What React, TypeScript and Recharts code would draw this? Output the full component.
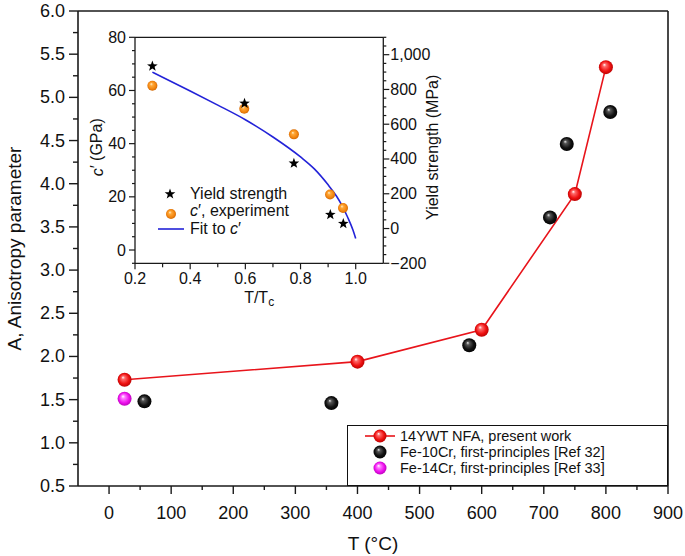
import React from 'react';
import { ComposedChart, Line, Scatter, XAxis, YAxis, ReferenceLine, Legend } from 'recharts';

// ---------- main chart data ----------
const redT = [25, 400, 600, 750, 800];
const redA = [1.73, 1.94, 2.31, 3.88, 5.35];
const blackT = [57, 358, 580, 710, 737, 807];
const blackA = [1.48, 1.46, 2.13, 3.61, 4.46, 4.83];
const magentaT = [25];
const magentaA = [1.51];

const mainXTicks = [0, 50, 100, 150, 200, 250, 300, 350, 400, 450, 500, 550, 600, 650, 700, 750, 800, 850, 900];
const mainYTicks = [0.5, 0.75, 1.0, 1.25, 1.5, 1.75, 2.0, 2.25, 2.5, 2.75, 3.0, 3.25, 3.5, 3.75, 4.0, 4.25, 4.5, 4.75, 5.0, 5.25, 5.5, 5.75, 6.0];

const legendLabels = ['14YWT NFA, present work', 'Fe-10Cr, first-principles [Ref 32]', 'Fe-14Cr, first-principles [Ref 33]'];

// ---------- inset data ----------
const ratioExp = [0.263, 0.596, 0.776, 0.907, 0.954];
const cExp = [61.8, 53.1, 43.5, 20.9, 15.8];
const ratioYS = [0.263, 0.597, 0.776, 0.908, 0.955];
const yieldMPa = [934, 720, 375, 80, 28];
const fitT = [0.263, 0.3, 0.4, 0.5, 0.6, 0.7, 0.8, 0.85, 0.9, 0.93, 0.95, 0.97, 0.99, 1.0];
const fitC = [66.9, 65.0, 59.8, 54.5, 49.0, 42.5, 35.0, 30.5, 24.5, 20.3, 16.8, 12.5, 7.5, 4.3];

const insetXTicks = [0.2, 0.3, 0.4, 0.5, 0.6, 0.7, 0.8, 0.9, 1.0];
const insetLeftTicks = [-5, 0, 5, 10, 15, 20, 25, 30, 35, 40, 45, 50, 55, 60, 65, 70, 75, 80];
const insetRightTicks = [-200, -150, -100, -50, 0, 50, 100, 150, 200, 250, 300, 350, 400, 450, 500, 550, 600, 650, 700, 750, 800, 850, 900, 950, 1000, 1050, 1100];

const redData = redT.map((x, i) => ({ x, y: redA[i] }));
const blackData = blackT.map((x, i) => ({ x, y: blackA[i] }));
const magentaData = magentaT.map((x, i) => ({ x, y: magentaA[i] }));
const expData = ratioExp.map((t, i) => ({ t, c: cExp[i] }));
const ysData = ratioYS.map((t, i) => ({ t, ys: yieldMPa[i] }));
const fitData = fitT.map((t, i) => ({ t, c: fitC[i] }));

const FONT = 'Liberation Sans, Arial, Helvetica, sans-serif';
const AX = '#1a1a1a';

const isMult = (v: number, step: number) => Math.abs(v / step - Math.round(v / step)) < 1e-6;

const Gradients = () => (
  <defs>
    <radialGradient id="ballRed" cx="50%" cy="50%" r="55%" fx="38%" fy="32%">
      <stop offset="0%" stopColor="#ffffff" />
      <stop offset="22%" stopColor="#ff6a6a" />
      <stop offset="65%" stopColor="#ee1111" />
      <stop offset="100%" stopColor="#b00000" />
    </radialGradient>
    <radialGradient id="ballBlack" cx="50%" cy="50%" r="55%" fx="38%" fy="32%">
      <stop offset="0%" stopColor="#e8e8e8" />
      <stop offset="22%" stopColor="#555555" />
      <stop offset="65%" stopColor="#111111" />
      <stop offset="100%" stopColor="#000000" />
    </radialGradient>
    <radialGradient id="ballMagenta" cx="50%" cy="50%" r="55%" fx="38%" fy="32%">
      <stop offset="0%" stopColor="#ffffff" />
      <stop offset="25%" stopColor="#ff77ff" />
      <stop offset="65%" stopColor="#ee11ee" />
      <stop offset="100%" stopColor="#b000b0" />
    </radialGradient>
    <radialGradient id="ballOrange" cx="50%" cy="50%" r="55%" fx="38%" fy="32%">
      <stop offset="0%" stopColor="#fff0d0" />
      <stop offset="28%" stopColor="#ffa838" />
      <stop offset="70%" stopColor="#f28510" />
      <stop offset="100%" stopColor="#c86000" />
    </radialGradient>
  </defs>
);

const Ball = ({ cx, cy, fill, r }: any) => {
  if (cx == null || cy == null) return null;
  return <circle cx={cx} cy={cy} r={r} fill={fill} />;
};

const starPoints = (cx: number, cy: number, R: number, r: number) => {
  const pts: string[] = [];
  for (let k = 0; k < 10; k++) {
    const ang = -Math.PI / 2 + (k * Math.PI) / 5;
    const rad = k % 2 === 0 ? R : r;
    pts.push(`${cx + rad * Math.cos(ang)},${cy + rad * Math.sin(ang)}`);
  }
  return pts.join(' ');
};

const Star = ({ cx, cy }: any) => {
  if (cx == null || cy == null) return null;
  return <polygon points={starPoints(cx, cy, 5.6, 2.3)} fill="#000" />;
};

// ---------- custom ticks ----------
const MainXTick = ({ x, y, payload }: any) => {
  const v = payload.value;
  const major = isMult(v, 100);
  return (
    <g>
      <line x1={x} x2={x} y1={y} y2={y + (major ? 8 : 4)} stroke={AX} strokeWidth={1.4} />
      {major && (
        <text x={x} y={y + 27} textAnchor="middle" dominantBaseline="central" fontSize={18} fontFamily={FONT} fill="#111">
          {v}
        </text>
      )}
    </g>
  );
};

const MainYTick = ({ x, y, payload }: any) => {
  const v = payload.value;
  const major = isMult(v, 0.5);
  return (
    <g>
      <line x1={x} x2={x - (major ? 9 : 5)} y1={y} y2={y} stroke={AX} strokeWidth={1.4} />
      {major && (
        <text x={x - 13} y={y} textAnchor="end" dominantBaseline="central" fontSize={18} fontFamily={FONT} fill="#111">
          {v.toFixed(1)}
        </text>
      )}
    </g>
  );
};

const InsetXTick = ({ x, y, payload }: any) => {
  const v = payload.value;
  const major = isMult(v, 0.2);
  return (
    <g>
      <line x1={x} x2={x} y1={y} y2={y + (major ? 6 : 4)} stroke={AX} strokeWidth={1.2} />
      {major && (
        <text x={x} y={y + 15} textAnchor="middle" dominantBaseline="central" fontSize={16} fontFamily={FONT} fill="#111">
          {v.toFixed(1)}
        </text>
      )}
    </g>
  );
};

const InsetLeftTick = ({ x, y, payload }: any) => {
  const v = payload.value;
  const major = isMult(v, 20);
  return (
    <g>
      <line x1={x} x2={x - (major ? 6 : 3)} y1={y} y2={y} stroke={AX} strokeWidth={1.2} />
      {major && (
        <text x={x - 9} y={y} textAnchor="end" dominantBaseline="central" fontSize={16} fontFamily={FONT} fill="#111">
          {v}
        </text>
      )}
    </g>
  );
};

const InsetRightTick = ({ x, y, payload }: any) => {
  const v = payload.value;
  const major = isMult(v, 200);
  const label = v < 0 ? '\u2212' + Math.abs(v).toLocaleString('en-US') : v.toLocaleString('en-US');
  return (
    <g>
      <line x1={x} x2={x + (major ? 6 : 3)} y1={y} y2={y} stroke={AX} strokeWidth={1.2} />
      {major && (
        <text x={x + 7} y={y} textAnchor="start" dominantBaseline="central" fontSize={16} fontFamily={FONT} fill="#111">
          {label}
        </text>
      )}
    </g>
  );
};

// ---------- legends ----------
const MainLegend = () => {
  const markers = ['url(#ballRed)', 'url(#ballBlack)', 'url(#ballMagenta)'];
  return (
    <div
      style={{
        width: 321,
        height: 61,
        boxSizing: 'border-box',
        border: '1.3px solid #111',
        background: '#fff',
        paddingTop: 2,
        fontFamily: FONT,
        fontSize: 14.5,
        color: '#111',
      }}
    >
      {legendLabels.map((lab, i) => (
        <div key={lab} style={{ display: 'flex', alignItems: 'center', height: 16 }}>
          <svg width={52} height={16} style={{ flex: 'none' }}>
            {i === 0 && <line x1={17} x2={47} y1={8} y2={8} stroke="#e8141b" strokeWidth={1.6} />}
            <circle cx={32} cy={8} r={6.5} fill={markers[i]} />
          </svg>
          <span style={{ whiteSpace: 'nowrap' }}>{lab}</span>
        </div>
      ))}
    </div>
  );
};

const InsetLegend = () => (
  <div style={{ fontFamily: FONT, fontSize: 16, color: '#111', width: 200 }}>
    <div style={{ display: 'flex', alignItems: 'center', height: 17.5 }}>
      <svg width={40} height={17} style={{ flex: 'none' }}>
        <polygon points={starPoints(20, 9, 5.6, 2.3)} fill="#000" />
      </svg>
      <span style={{ whiteSpace: 'nowrap' }}>Yield strength</span>
    </div>
    <div style={{ display: 'flex', alignItems: 'center', height: 17.5 }}>
      <svg width={40} height={17} style={{ flex: 'none' }}>
        <circle cx={21} cy={11} r={5} fill="url(#ballOrange)" />
      </svg>
      <span style={{ whiteSpace: 'nowrap' }}>
        <i>c</i>′, experiment
      </span>
    </div>
    <div style={{ display: 'flex', alignItems: 'center', height: 17.5 }}>
      <svg width={40} height={17} style={{ flex: 'none' }}>
        <line x1={8} x2={34} y1={9} y2={9} stroke="#2323d8" strokeWidth={1.6} />
      </svg>
      <span style={{ whiteSpace: 'nowrap' }}>
        Fit to <i>c</i>′
      </span>
    </div>
  </div>
);

export default function App() {
  return (
    <div style={{ position: 'absolute', left: 0, top: 0, width: 685, height: 556, background: '#fff' }}>
      <div style={{ position: 'absolute', left: 0, top: 0 }}>
        <ComposedChart width={685} height={556} margin={{ top: 11, right: 17, left: 0, bottom: 0 }}>
          <Gradients />
          <XAxis
            type="number"
            dataKey="x"
            domain={[-50, 900]}
            ticks={mainXTicks}
            interval={0}
            height={70}
            tickSize={0}
            tickMargin={0}
            tickLine={false}
            tick={MainXTick}
            axisLine={{ stroke: AX, strokeWidth: 1.6 }}
            label={(p: any) => {
              const vb = p.viewBox || {};
              return (
                <text x={vb.x + vb.width / 2} y={vb.y + 57} textAnchor="middle" dominantBaseline="central" fontSize={19} fontFamily={FONT} fill="#111">
                  T (°C)
                </text>
              );
            }}
          />
          <YAxis
            type="number"
            dataKey="y"
            domain={[0.5, 6]}
            ticks={mainYTicks}
            interval={0}
            width={78}
            tickSize={0}
            tickMargin={0}
            tickLine={false}
            tick={MainYTick}
            axisLine={{ stroke: AX, strokeWidth: 1.6 }}
            label={(p: any) => {
              const vb = p.viewBox || {};
              const cx = vb.x + 14;
              const cy = vb.y + vb.height / 2;
              return (
                <text x={cx} y={cy} transform={`rotate(-90 ${cx} ${cy})`} textAnchor="middle" dominantBaseline="central" fontSize={19} fontFamily={FONT} fill="#111">
                  A, Anisotropy parameter
                </text>
              );
            }}
          />
          <ReferenceLine y={6} stroke={AX} strokeWidth={1.6} />
          <ReferenceLine x={900} stroke={AX} strokeWidth={1.6} />
          <Line
            data={redData}
            dataKey="y"
            type="linear"
            stroke="#e8141b"
            strokeWidth={1.6}
            isAnimationActive={false}
            dot={(p: any) => <Ball key={`r${p.index}`} cx={p.cx} cy={p.cy} r={7} fill="url(#ballRed)" />}
            activeDot={false}
          />
          <Scatter
            data={blackData}
            isAnimationActive={false}
            shape={(p: any) => <Ball cx={p.cx} cy={p.cy} r={7} fill="url(#ballBlack)" />}
          />
          <Scatter
            data={magentaData}
            isAnimationActive={false}
            shape={(p: any) => <Ball cx={p.cx} cy={p.cy} r={7} fill="url(#ballMagenta)" />}
          />
          <Legend
            layout="vertical"
            align="center"
            verticalAlign="middle"
            content={MainLegend}
            wrapperStyle={{ position: 'absolute', left: 347, top: 425, width: 321, height: 61 }}
          />
        </ComposedChart>
      </div>

      <div style={{ position: 'absolute', left: 0, top: 0 }}>
        <ComposedChart width={685} height={556} margin={{ top: 37.3, right: 225, left: 80, bottom: 246 }}>
          <Gradients />
          <XAxis
            type="number"
            dataKey="t"
            domain={[0.2, 1.1]}
            ticks={insetXTicks}
            interval={0}
            height={46.7}
            tickSize={0}
            tickMargin={0}
            tickLine={false}
            tick={InsetXTick}
            axisLine={{ stroke: AX, strokeWidth: 1.3 }}
            label={(p: any) => {
              const vb = p.viewBox || {};
              return (
                <text x={vb.x + vb.width / 2} y={vb.y + 34} textAnchor="middle" dominantBaseline="central" fontSize={16} fontFamily={FONT} fill="#111">
                  T/T
                  <tspan fontSize={12} dy={5}>c</tspan>
                </text>
              );
            }}
          />
          <YAxis
            yAxisId="l"
            orientation="left"
            type="number"
            dataKey="c"
            domain={[-5, 80]}
            ticks={insetLeftTicks}
            interval={0}
            width={55}
            tickSize={0}
            tickMargin={0}
            tickLine={false}
            tick={InsetLeftTick}
            axisLine={{ stroke: AX, strokeWidth: 1.3 }}
            label={(p: any) => {
              const vb = p.viewBox || {};
              const cx = vb.x + 17;
              const cy = vb.y + vb.height / 2 - 3;
              return (
                <text x={cx} y={cy} transform={`rotate(-90 ${cx} ${cy})`} textAnchor="middle" dominantBaseline="central" fontSize={16} fontFamily={FONT} fill="#111">
                  <tspan fontStyle="italic">c</tspan>′ (GPa)
                </text>
              );
            }}
          />
          <YAxis
            yAxisId="r"
            orientation="right"
            type="number"
            dataKey="ys"
            domain={[-200, 1100]}
            ticks={insetRightTicks}
            interval={0}
            width={76.7}
            tickSize={0}
            tickMargin={0}
            tickLine={false}
            tick={InsetRightTick}
            axisLine={{ stroke: AX, strokeWidth: 1.3 }}
            label={(p: any) => {
              const vb = p.viewBox || {};
              const cx = vb.x + 49;
              const cy = vb.y + vb.height / 2 - 3;
              return (
                <text x={cx} y={cy} transform={`rotate(-90 ${cx} ${cy})`} textAnchor="middle" dominantBaseline="central" fontSize={16} fontFamily={FONT} fill="#111">
                  Yield strength (MPa)
                </text>
              );
            }}
          />
          <ReferenceLine yAxisId="l" y={80} stroke={AX} strokeWidth={1.3} />
          <Line
            yAxisId="l"
            data={fitData}
            dataKey="c"
            type="monotone"
            stroke="#2323d8"
            strokeWidth={1.6}
            dot={false}
            activeDot={false}
            isAnimationActive={false}
          />
          <Scatter
            yAxisId="l"
            data={expData}
            isAnimationActive={false}
            shape={(p: any) => <Ball cx={p.cx} cy={p.cy} r={5} fill="url(#ballOrange)" />}
          />
          <Scatter yAxisId="r" data={ysData} isAnimationActive={false} shape={(p: any) => <Star cx={p.cx} cy={p.cy} />} />
          <Legend
            layout="vertical"
            align="center"
            verticalAlign="middle"
            content={InsetLegend}
            wrapperStyle={{ position: 'absolute', left: 150, top: 185, width: 200, height: 54 }}
          />
        </ComposedChart>
      </div>
    </div>
  );
}
